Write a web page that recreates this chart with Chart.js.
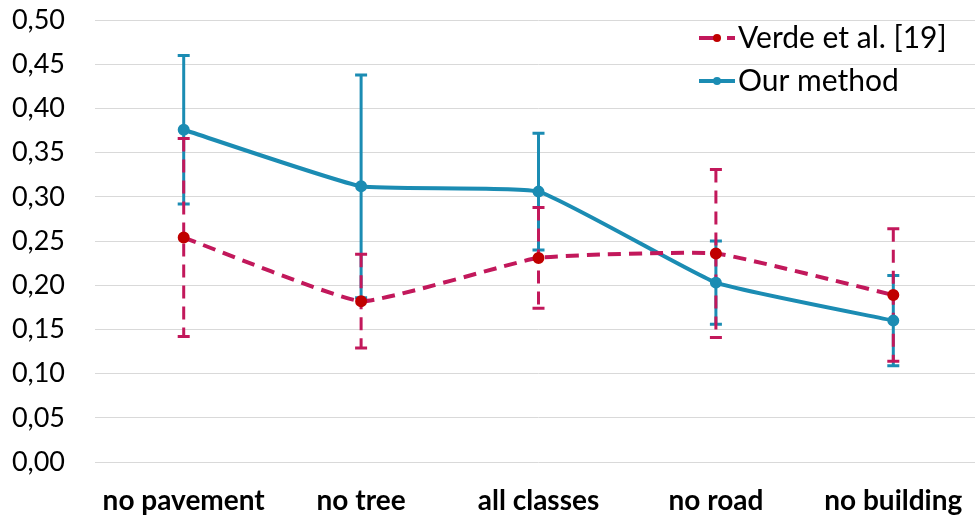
<!DOCTYPE html>
<html>
<head>
<meta charset="utf-8">
<script src="https://cdn.jsdelivr.net/npm/chart.js@4.4.1/dist/chart.umd.min.js"></script>
<style>
  html, body { margin: 0; padding: 0; background: #fff; overflow: hidden; }
  #wrap { width: 990px; height: 517px; }
</style>
</head>
<body>
<div id="wrap"><canvas id="c" width="990" height="517"></canvas></div>
<script>
// Ablation results per removed class
const categories = ['no pavement', 'no tree', 'all classes', 'no road', 'no building'];

const verdeLabel = 'Verde et al. [19]';
const verdeValues = [0.254, 0.182, 0.231, 0.236, 0.189];
const verdeErrors = [0.112, 0.053, 0.057, 0.095, 0.075];

const oursLabel = 'Our method';
const oursValues = [0.376, 0.312, 0.306, 0.203, 0.160];
const oursErrors = [0.084, 0.126, 0.066, 0.047, 0.051];

const yTicks = { min: 0, max: 0.5, step: 0.05 };

const VERDE_LINE = '#c2185b';
const VERDE_POINT = '#c00000';
const OURS = '#1b8cb3';
const FONT = 'Lato, "Open Sans", sans-serif';
const DASH = [13, 8];

// Vertical error bars with end caps, drawn under the series lines
const errorBars = {
  id: 'errorBars',
  beforeDatasetsDraw(chart) {
    const { ctx } = chart;
    const x = chart.scales.x, y = chart.scales.y;
    const sets = [
      { vals: oursValues, errs: oursErrors, color: OURS, dash: [] },
      { vals: verdeValues, errs: verdeErrors, color: VERDE_LINE, dash: DASH }
    ];
    ctx.save();
    sets.forEach(s => {
      s.vals.forEach((v, i) => {
        const px = x.getPixelForValue(i);
        const top = y.getPixelForValue(v + s.errs[i]);
        const bot = y.getPixelForValue(v - s.errs[i]);
        ctx.strokeStyle = s.color;
        ctx.lineWidth = 3;
        ctx.setLineDash(s.dash);
        ctx.beginPath();
        ctx.moveTo(px, top);
        ctx.lineTo(px, bot);
        ctx.stroke();
        ctx.setLineDash([]);
        ctx.beginPath();
        ctx.moveTo(px - 6, top); ctx.lineTo(px + 6, top);
        ctx.moveTo(px - 6, bot); ctx.lineTo(px + 6, bot);
        ctx.stroke();
      });
    });
    ctx.restore();
  }
};

// Legend placed inside the top-right of the plot
const insideLegend = {
  id: 'insideLegend',
  afterDraw(chart) {
    const { ctx } = chart;
    const entries = [
      { text: verdeLabel, line: VERDE_LINE, point: VERDE_POINT, dash: true, y: 38 },
      { text: oursLabel, line: OURS, point: OURS, dash: false, y: 81 }
    ];
    ctx.save();
    entries.forEach(e => {
      const x0 = 699, x1 = 735;
      ctx.strokeStyle = e.line;
      ctx.lineWidth = 4;
      if (e.dash) {
        ctx.beginPath(); ctx.moveTo(x0, e.y); ctx.lineTo(x0 + 15, e.y); ctx.stroke();
        ctx.beginPath(); ctx.moveTo(x0 + 28, e.y); ctx.lineTo(x1, e.y); ctx.stroke();
      } else {
        ctx.beginPath(); ctx.moveTo(x0, e.y); ctx.lineTo(x1, e.y); ctx.stroke();
      }
      ctx.fillStyle = e.point;
      ctx.beginPath(); ctx.arc(717, e.y, 4, 0, Math.PI * 2); ctx.fill();
      ctx.fillStyle = '#000';
      ctx.font = '30px ' + FONT;
      ctx.textBaseline = 'middle';
      ctx.textAlign = 'left';
      ctx.fillText(e.text, 738, e.y);
    });
    ctx.restore();
  }
};

new Chart(document.getElementById('c'), {
  type: 'line',
  data: {
    labels: categories,
    datasets: [
      {
        label: verdeLabel,
        data: verdeValues,
        borderColor: VERDE_LINE,
        backgroundColor: VERDE_POINT,
        pointBackgroundColor: VERDE_POINT,
        pointBorderColor: VERDE_POINT,
        borderWidth: 4,
        borderDash: DASH,
        pointRadius: 4,
        tension: 0.12,
        fill: false
      },
      {
        label: oursLabel,
        data: oursValues,
        borderColor: OURS,
        backgroundColor: OURS,
        pointBackgroundColor: OURS,
        pointBorderColor: OURS,
        borderWidth: 4,
        pointRadius: 4,
        tension: 0.12,
        fill: false
      }
    ]
  },
  options: {
    responsive: false,
    devicePixelRatio: 1,
    animation: false,
    layout: { padding: { left: 10, top: 0, right: 3, bottom: 0 } },
    plugins: {
      legend: { display: false },
      tooltip: { enabled: false }
    },
    scales: {
      x: {
        offset: true,
        grid: { display: false, drawTicks: false },
        border: { display: false },
        ticks: {
          color: '#000',
          padding: 22,
          maxRotation: 0,
          autoSkip: false,
          font: { family: FONT, size: 28, weight: 'bold' }
        },
        afterFit(s) { s.height = 55; }
      },
      y: {
        min: yTicks.min,
        max: yTicks.max,
        grid: { color: '#d9d9d9', lineWidth: 1, drawTicks: true, tickLength: 26, tickColor: 'rgba(0,0,0,0)' },
        border: { display: false },
        ticks: {
          stepSize: yTicks.step,
          color: '#000',
          padding: 4,
          font: { family: FONT, size: 27 },
          callback: v => v.toFixed(2).replace('.', ',')
        },
        afterFit(s) { s.width = 85; }
      }
    }
  },
  plugins: [errorBars, insideLegend]
});
</script>
</body>
</html>
